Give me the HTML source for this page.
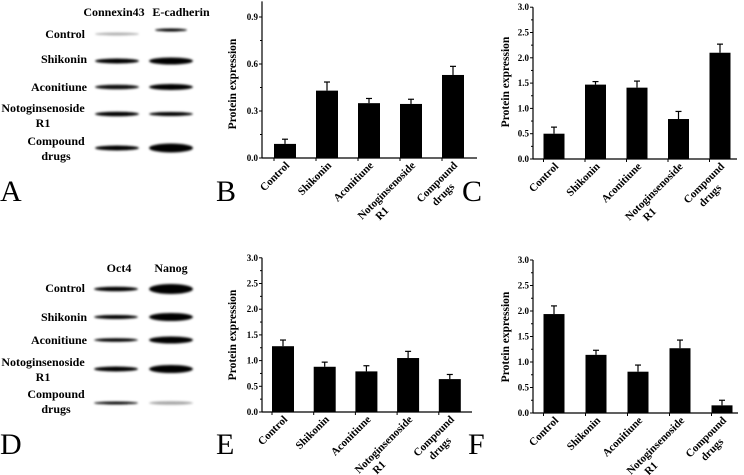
<!DOCTYPE html>
<html><head><meta charset="utf-8"><style>
html,body{margin:0;padding:0;background:#fff;}
svg{display:block;font-family:"Liberation Serif",serif;}
.t{font-weight:bold;font-size:9px;}
.c{font-weight:bold;font-size:11px;}
.y{font-weight:bold;font-size:11.5px;}
.bl{font-weight:bold;font-size:12px;}
.L{font-size:30px;}
</style></head><body>
<svg id="fig" width="744" height="475" viewBox="0 0 744 475" xmlns="http://www.w3.org/2000/svg">
<defs><filter id="blur" x="-20%" y="-100%" width="140%" height="300%"><feGaussianBlur stdDeviation="1.1"/></filter></defs>
<g id="blots"></g>
<g id="charts"></g>
<text class="L" x="0" y="201">A</text>
<text class="L" x="216" y="201">B</text>
<text class="L" x="462" y="201">C</text>
<text class="L" x="0" y="454">D</text>
<text class="L" x="216" y="454">E</text>
<text class="L" x="468" y="454">F</text>
</svg>
<script>
const categories = ["Control","Shikonin","Aconitiune","Notoginsenoside|R1","Compound|drugs"];
const valuesB = [0.09,0.43,0.35,0.345,0.53];
const errorsB = [0.03,0.055,0.03,0.03,0.055];
const valuesC = [0.5,1.47,1.41,0.79,2.1];
const errorsC = [0.13,0.06,0.13,0.15,0.17];
const valuesE = [1.28,0.88,0.79,1.05,0.64];
const errorsE = [0.12,0.09,0.11,0.13,0.09];
const valuesF = [1.94,1.14,0.81,1.27,0.15];
const errorsF = [0.16,0.09,0.13,0.16,0.10];
const ticksB = ["0.0","0.3","0.6","0.9"];
const ticks3 = ["0.0","0.5","1.0","1.5","2.0","2.5","3.0"];

const NS="http://www.w3.org/2000/svg";
function mk(tag,attrs,parent){const e=document.createElementNS(NS,tag);for(const k in attrs)e.setAttribute(k,attrs[k]);parent.appendChild(e);return e;}

function chart(id,o,values,errors,ticks,step,minor,yMax){
  const g=mk('g',{},document.getElementById('charts'));
  
  
  const y=v=>o.y0-(v/step)*o.pxStep;
  const x=i=>o.x0+o.first+i*o.gap;
  const ya=mk('line',{x1:o.x0,y1:o.y0,x2:o.x0,y2:y(yMax),stroke:'#000','stroke-width':1.2},g);
  
  
  const xa=mk('line',{x1:o.x0,y1:o.y0,x2:o.x1,y2:o.y0,stroke:'#000','stroke-width':1.2},g);
  
  
  for(let v=0;v<=yMax+1e-9;v+=minor){
    const major=Math.abs(v/step-Math.round(v/step))<1e-6;
    mk('line',{x1:o.x0-(major?3:2),y1:y(v),x2:o.x0,y2:y(v),stroke:'#000','stroke-width':1},g);
  }
  ticks.forEach(t=>{
    const tx=mk('text',{x:o.x0-4,y:y(parseFloat(t))+3,'text-anchor':'end',class:'t'},g);
    tx.textContent=t;
    
    
  });
  values.forEach((v,i)=>{
    const cx=x(i);
    mk('line',{x1:cx-o.bw/2,y1:o.y0,x2:cx-o.bw/2,y2:o.y0+3,stroke:'#000'},g);
    const el=mk('line',{x1:cx,y1:y(v),x2:cx,y2:y(v+errors[i]),stroke:'#000','stroke-width':1.2},g);
    
    
    mk('line',{x1:cx-3,y1:y(v+errors[i]),x2:cx+3,y2:y(v+errors[i]),stroke:'#000','stroke-width':1.2},g);
    const r=mk('rect',{x:cx-o.bw/2,y:y(v),width:o.bw,height:o.y0-y(v),fill:'#000'},g);
    
    
    const parts=categories[i].split('|');
    const tg=mk('g',{transform:`translate(${cx+5},${o.y0+8}) rotate(-45)`},g);
    const t1=mk('text',{x:0,y:0,'text-anchor':'end',class:'c'},tg);
    t1.textContent=parts[0];
    
    
    if(parts[1]){
      const w=parts[0].length*4.8;
      const t2=mk('text',{x:-0.8*w,y:13,'text-anchor':'middle',class:'c'},tg);
      t2.textContent=parts[1];
    }
  });
  const yt=mk('text',{transform:`translate(${o.tx},${o.ty}) rotate(-90)`,'text-anchor':'middle',class:'y'},g);
  yt.textContent='Protein expression';
  
  
}
chart('b',{x0:262,x1:477,y0:158,pxStep:47,first:23,gap:42,bw:22,tx:236,ty:84},valuesB,errorsB,ticksB,0.3,0.15,1.0);
chart('c',{x0:533,x1:737,y0:159,pxStep:25.3,first:21,gap:41.5,bw:21,tx:509,ty:82},valuesC,errorsC,ticks3,0.5,0.25,3.0);
chart('e',{x0:262,x1:472,y0:412,pxStep:25.7,first:21,gap:41.7,bw:22,tx:236,ty:335},valuesE,errorsE,ticks3,0.5,0.25,3.0);
chart('f',{x0:533,x1:738,y0:413,pxStep:25.5,first:21,gap:42,bw:21,tx:509,ty:337},valuesF,errorsF,ticks3,0.5,0.25,3.0);

const bl=document.getElementById('blots');
function label(txt,x,y,anchor,name){const t=mk('text',{x:x,y:y,'text-anchor':anchor,class:'bl'},bl);t.textContent=txt;}
function band(cx,cy,w,h,op,name){const e=mk('ellipse',{cx:cx,cy:cy,rx:w/2,ry:h/2,fill:'#000','fill-opacity':op,filter:'url(#blur)'},bl);}
label('Connexin43',114,16,'middle','connexin43-header');label('E-cadherin',181,16,'middle','e-cadherin-header');
function rows(ys,name){
  label('Control',85,ys[0],'end',name);
  label('Shikonin',87,ys[1],'end',name);
  label('Aconitiune',87,ys[2],'end',name);
  label('Notoginsenoside',43,ys[3],'middle',name);
  label('R1',43,ys[3]+15,'middle',name);
  label('Compound',56,ys[4],'middle',name);
  label('drugs',56,ys[4]+15,'middle',name);
}
rows([38,63,91,112,145],'blot-a-row-label');
rows([292,321,344,366,398],'blot-d-row-label');
const aBandY=[34,61,87,114,148],aC=[[3,0.3],[5,1],[4.5,0.95],[4.5,1],[5,1]],aE=[[3,1],[7,1],[6,1],[4,1],[9,1]];
aBandY.forEach((y,i)=>{band(117,y,44,aC[i][0],aC[i][1],'connexin43-band');band(171,y-(i===0?4:0),i===0?32:44,aE[i][0],aE[i][1],'e-cadherin-band');});
label('Oct4',119,272,'middle','oct4-header');label('Nanog',171,272,'middle','nanog-header');
const dBandY=[289,317,340,369,403],dO=[[4.5,1],[4,1],[3.5,1],[5,1],[3,0.95]],dN=[[10,1],[8,1],[7,1],[8,1],[3.5,0.35]];
dBandY.forEach((y,i)=>{band(116,y,44,dO[i][0],dO[i][1],'oct4-band');band(171,y,44,dN[i][0],dN[i][1],'nanog-band');});
</script>
</body></html>
